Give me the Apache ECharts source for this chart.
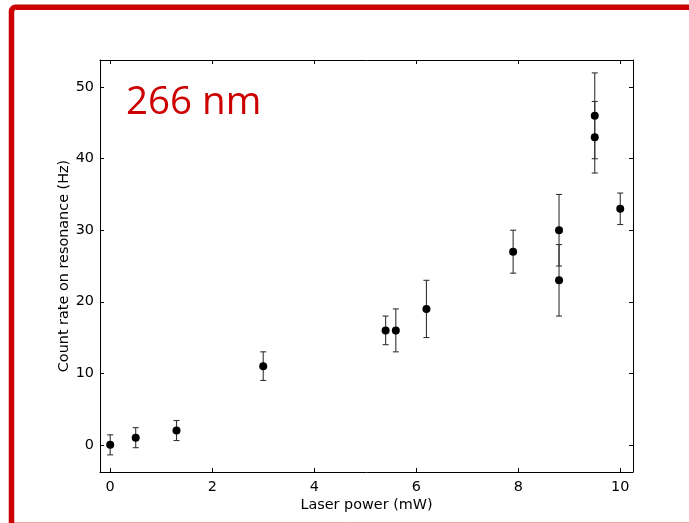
<!DOCTYPE html>
<html>
<head>
<meta charset="utf-8">
<script src="https://cdn.jsdelivr.net/npm/echarts@6/dist/echarts.min.js"></script>
<style>html,body{margin:0;padding:0;background:#fff;}#c{width:689px;height:523px;}</style>
</head>
<body>
<div id="c"></div>
<script>
// Data
const laserPower = [0, 0.5, 1.3, 3, 5.4, 5.6, 6.2, 7.9, 8.8, 8.8, 9.5, 9.5, 10];
const countRate  = [0, 1, 2, 11, 16, 16, 19, 27, 30, 23, 46, 43, 33];
const countErr   = [1.4, 1.4, 1.4, 2, 2, 3, 4, 3, 5, 5, 6, 5, 2.2];
const xTicks = [0, 2, 4, 6, 8, 10];
const yTicks = [0, 10, 20, 30, 40, 50];
const titleText = '266 nm';
const xName = 'Laser power (mW)';
const yName = 'Count rate on resonance (Hz)';

const chart = echarts.init(document.getElementById('c'), null, {renderer: 'canvas'});

const points = laserPower.map((x, i) => [x, countRate[i]]);
const bars = laserPower.map((x, i) => [x, countRate[i] - countErr[i], countRate[i] + countErr[i]]);

const font = 'DejaVu Sans';
const fs = 14.4;
const axisCommon = {
  type: 'value',
  axisLine: {show: true, onZero: false, lineStyle: {color: '#000', width: 1}},
  axisTick: {show: true, inside: true, length: 4, lineStyle: {color: '#000', width: 1}},
  splitLine: {show: false},
};

chart.setOption({
  animation: false,
  backgroundColor: '#fff',
  grid: {left: 100, top: 60, right: 56, bottom: 51, containLabel: false},
  xAxis: [
    Object.assign({}, axisCommon, {
      position: 'bottom', min: -0.2, max: 10.25,
      name: xName, nameLocation: 'middle', nameGap: 26, nameMoveOverlap: false,
      nameTextStyle: {fontFamily: font, fontSize: fs, color: '#000'},
      axisTick: Object.assign({}, axisCommon.axisTick, {customValues: xTicks}),
      axisLabel: {customValues: xTicks, fontFamily: font, fontSize: fs, color: '#000', margin: 8}
    }),
    Object.assign({}, axisCommon, {
      position: 'top', min: -0.2, max: 10.25,
      axisTick: Object.assign({}, axisCommon.axisTick, {customValues: xTicks}),
      axisLabel: {show: false}
    })
  ],
  yAxis: [
    Object.assign({}, axisCommon, {
      position: 'left', min: -3.8, max: 53.8,
      name: yName, nameLocation: 'middle', nameGap: 29, nameMoveOverlap: false,
      nameTextStyle: {fontFamily: font, fontSize: fs, color: '#000'},
      axisTick: Object.assign({}, axisCommon.axisTick, {customValues: yTicks}),
      axisLabel: {customValues: yTicks, fontFamily: font, fontSize: fs, color: '#000', margin: 6}
    }),
    Object.assign({}, axisCommon, {
      position: 'right', min: -3.8, max: 53.8,
      axisTick: Object.assign({}, axisCommon.axisTick, {customValues: yTicks}),
      axisLabel: {show: false}
    })
  ],
  graphic: [
    {type: 'rect', silent: true, z: 100,
     shape: {x: 11.5, y: 7.2, width: 720, height: 620, r: 4},
     style: {fill: null, stroke: '#cc0000', lineWidth: 5.5}},
    {type: 'line', silent: true, z: 99,
     shape: {x1: 14, y1: 522.5, x2: 689, y2: 522.5},
     style: {stroke: '#f4a8a8', lineWidth: 1}},
    {type: 'text', silent: true, z: 100, left: 126, top: 84,
     style: {text: titleText, fill: '#cc0000', font: '38.5px "Open Sans"'}}
  ],
  series: [
    {
      type: 'custom',
      xAxisIndex: 0, yAxisIndex: 0,
      data: bars,
      renderItem: function (params, api) {
        const x = api.value(0);
        const lo = api.coord([x, api.value(1)]);
        const hi = api.coord([x, api.value(2)]);
        const w = 3;
        const st = {stroke: '#333', lineWidth: 1.1};
        return {type: 'group', children: [
          {type: 'line', shape: {x1: lo[0], y1: lo[1], x2: hi[0], y2: hi[1]}, style: st},
          {type: 'line', shape: {x1: lo[0] - w, y1: lo[1], x2: lo[0] + w, y2: lo[1]}, style: st},
          {type: 'line', shape: {x1: hi[0] - w, y1: hi[1], x2: hi[0] + w, y2: hi[1]}, style: st}
        ]};
      },
      z: 2
    },
    {
      type: 'scatter',
      xAxisIndex: 0, yAxisIndex: 0,
      data: points,
      symbol: 'circle', symbolSize: 8,
      itemStyle: {color: '#000', opacity: 1},
      z: 3
    }
  ]
});
</script>
</body>
</html>
